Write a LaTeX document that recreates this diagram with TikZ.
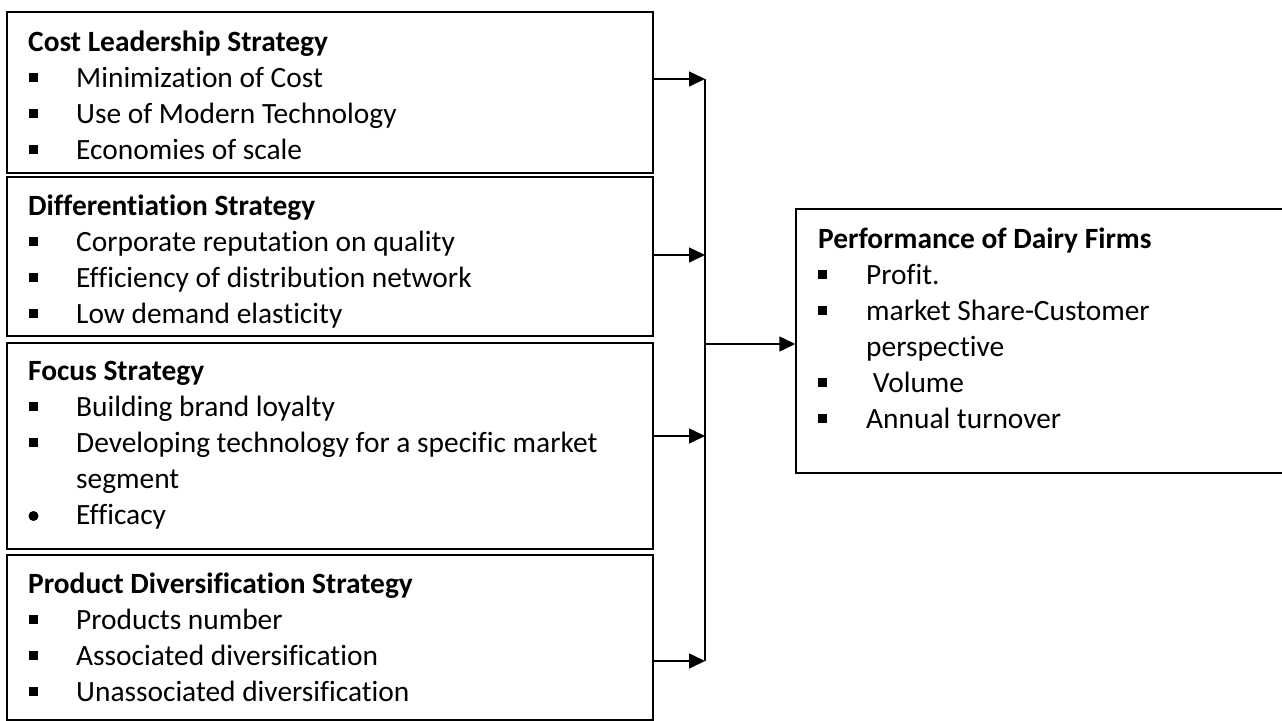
\documentclass[tikz,border=0pt]{standalone}
\usepackage{fontspec}
\setmainfont[Ligatures=NoCommon]{Carlito}
\usetikzlibrary{arrows.meta}
\newcommand{\txtsize}{\fontsize{29.4}{34}\selectfont}
\begin{document}
\begin{tikzpicture}[x=1pt, y=-1pt,
  box/.style={draw, line width=1.5pt, rectangle, inner sep=0pt},
  head/.style={anchor=base west, inner sep=0pt, font=\txtsize\bfseries},
  item/.style={anchor=base west, inner sep=0pt, font=\txtsize},
  sq/.style={fill, rectangle, inner sep=0pt, minimum size=9pt},
  rdot/.style={fill, circle, inner sep=0pt, minimum size=10pt},
  bus/.style={line width=1.6pt},
  arr/.style={line width=1.6pt, -{Triangle[length=16pt,width=15pt]}}]
\useasboundingbox (0,0) rectangle (1282,720);
\clip (0,0) rectangle (1282,720);

% strategy boxes
\node[box, minimum width=646pt, minimum height=161pt] (cost) at (330,92.5) {};
\node[box, minimum width=646pt, minimum height=159pt] (diff) at (330,256.5) {};
\node[box, minimum width=646pt, minimum height=206pt] (focus) at (330,446) {};
\node[box, minimum width=646pt, minimum height=165pt] (prod) at (330,637.5) {};
% outcome box
\node[box, minimum width=494pt, minimum height=264pt] (perf) at (1043,341) {};

% Cost leadership
\node[head] (costT) at (28,51) {Cost Leadership Strategy};
\node[sq] (costB1) at (33.5,77.5) {};
\node[item] (costI1) at (76,87) {Minimization of Cost};
\node[sq] (costB2) at (33.5,113.5) {};
\node[item] (costI2) at (76,123) {Use of Modern Technology};
\node[sq] (costB3) at (33.5,149.5) {};
\node[item] (costI3) at (76,159) {Economies of scale};

% Differentiation
\node[head] (diffT) at (28,215) {Differentiation Strategy};
\node[sq] (diffB1) at (33.5,241.5) {};
\node[item] (diffI1) at (76,251) {Corporate reputation on quality};
\node[sq] (diffB2) at (33.5,277.5) {};
\node[item] (diffI2) at (76,287) {Efficiency of distribution network};
\node[sq] (diffB3) at (33.5,313.5) {};
\node[item] (diffI3) at (76,323) {Low demand elasticity};

% Focus
\node[head] (focusT) at (28,380) {Focus Strategy};
\node[sq] (focusB1) at (33.5,406.5) {};
\node[item] (focusI1) at (76,416) {Building brand loyalty};
\node[sq] (focusB2) at (33.5,442.5) {};
\node[item] (focusI2) at (76,452) {Developing technology for a specific market};
\node[item] (focusI2b) at (76,488) {segment};
\node[rdot] (focusB3) at (33.5,516) {};
\node[item] (focusI3) at (76,524) {Efficacy};

% Product diversification
\node[head] (prodT) at (28,593) {Product Diversification Strategy};
\node[sq] (prodB1) at (33.5,619.5) {};
\node[item] (prodI1) at (76,629) {Products number};
\node[sq] (prodB2) at (33.5,655.5) {};
\node[item] (prodI2) at (76,665) {Associated diversification};
\node[sq] (prodB3) at (33.5,691.5) {};
\node[item] (prodI3) at (76,701) {Unassociated diversification};

% Performance
\node[head] (perfT) at (818,248) {Performance of Dairy Firms};
\node[sq] (perfB1) at (822.5,274.5) {};
\node[item] (perfI1) at (866,284) {Profit.};
\node[sq] (perfB2) at (822.5,310.5) {};
\node[item] (perfI2) at (866,320) {market Share-Customer};
\node[item] (perfI2b) at (866,356) {perspective};
\node[sq] (perfB3) at (822.5,382.5) {};
\node[item] (perfI3) at (866,392) {\ Volume};
\node[sq] (perfB4) at (822.5,418.5) {};
\node[item] (perfI4) at (866,428) {Annual turnover};

% collector line and arrows
\coordinate (j1) at (705,79);
\coordinate (j2) at (705,255);
\coordinate (j3) at (705,436);
\coordinate (j4) at (705,661);
\coordinate (jm) at (705,344);
\draw[bus] (j1) -- (j4);
\draw[arr] (cost.east |- j1) -- (j1);
\draw[arr] (diff.east |- j2) -- (j2);
\draw[arr] (focus.east |- j3) -- (j3);
\draw[arr] (prod.east |- j4) -- (j4);
\draw[arr] (jm) -- (perf.west |- jm);
\end{tikzpicture}
\end{document}
